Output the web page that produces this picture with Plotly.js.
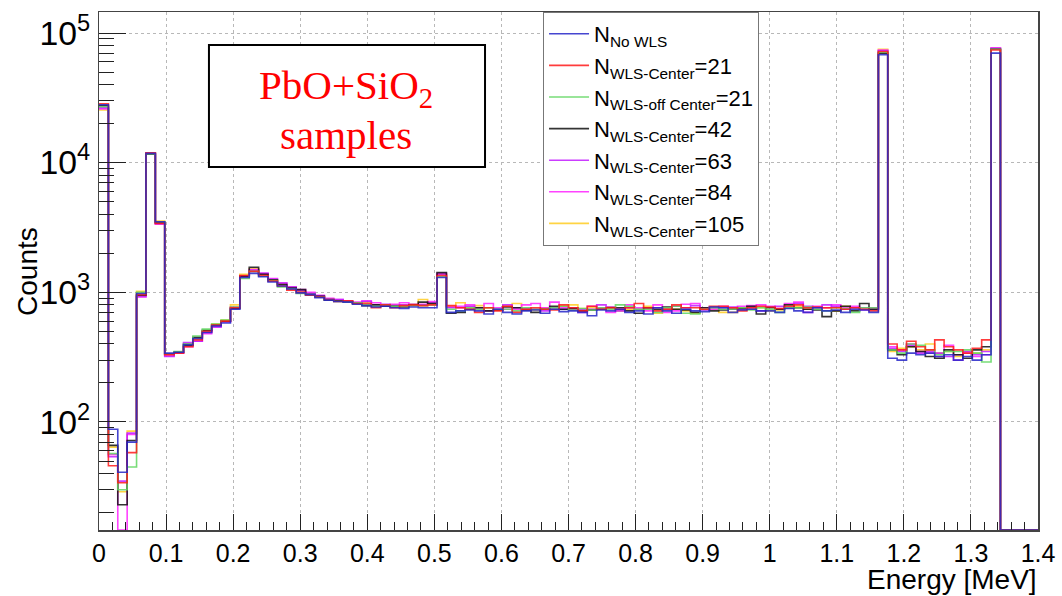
<!DOCTYPE html>
<html>
<head>
<meta charset="utf-8">
<script src="https://cdn.plot.ly/plotly-3.0.1.min.js"></script>
<style>html,body{margin:0;padding:0;background:#fff;}#chart{width:1062px;height:596px;}</style>
</head>
<body>
<div id="chart"></div>
<script>
// Histogram binning (100 bins of 0.014 MeV from 0 to 1.4)
const binLow = 0.0;
const binWidth = 0.014;
const nBins = 100;

const seriesNames = [
  'N<sub>No WLS</sub>',
  'N<sub>WLS-Center</sub>=21',
  'N<sub>WLS-off Center</sub>=21',
  'N<sub>WLS-Center</sub>=42',
  'N<sub>WLS-Center</sub>=63',
  'N<sub>WLS-Center</sub>=84',
  'N<sub>WLS-Center</sub>=105'
];

const noWLS = [28000,88,41,70,980,11800,3500,340,345,395,440,490,550,580,740,1300,1400,1320,1200,1120,1060,990,960,910,870,850,840,810,790,770,780,760,750,770,760,760,1300,
  700,720,730,720,680,740,700,680,720,730,690,740,710,720,700,660,730,720,740,700,720,680,760,720,690,740,720,710,770,760,700,730,740,720,720,700,750,720,700,760,720,730,700,740,730,700,
  68000,310,300,340,330,340,320,330,300,320,300,330,70000,0,0,0,0];
const center21 = [28500,46,34,58,960,11900,3400,330,340,380,430,500,560,600,760,1350,1450,1350,1220,1120,1040,1000,950,920,880,850,860,820,820,760,800,760,790,800,790,800,1350,
  790,760,740,700,760,720,780,700,740,760,740,730,800,760,720,780,740,760,740,760,820,760,720,740,800,760,760,740,780,780,760,720,760,780,770,750,780,800,760,770,760,760,740,760,740,720,
  72000,400,360,420,380,360,430,380,360,340,370,430,74000,0,0,0,0];
const offCenter21 = [27000,57,30,45,1000,11700,3500,335,350,400,460,520,570,610,770,1280,1450,1330,1230,1100,1060,980,960,920,880,850,840,830,800,780,800,780,780,790,790,800,1320,
  740,720,760,740,760,740,740,720,760,740,740,760,780,730,750,730,760,740,800,780,740,740,700,760,780,690,680,740,760,740,740,760,730,760,740,700,760,760,770,740,720,760,750,700,760,760,
  71000,360,340,400,390,360,330,350,350,360,340,290,75000,0,0,0,0];
const center42 = [27500,66,23,72,950,11600,3450,335,345,390,450,510,560,600,750,1330,1560,1380,1250,1150,1080,1050,960,930,870,860,850,820,790,800,780,780,770,800,840,820,1420,
  690,700,740,760,720,730,770,760,730,700,740,780,740,750,720,730,740,760,760,720,690,760,740,770,740,730,700,760,720,730,740,750,780,680,760,740,800,760,740,730,650,720,780,720,820,740,
  70000,360,330,380,350,320,310,360,330,310,360,380,75000,0,0,0,0];
const center63 = [26500,54,35,82,930,11700,3400,320,340,410,420,490,540,590,760,1320,1480,1400,1260,1180,1100,1030,980,940,890,880,850,830,850,800,810,790,800,810,800,830,1380,
  760,760,780,750,720,740,800,760,750,740,720,760,740,760,740,740,800,770,720,760,740,750,760,740,780,760,790,730,760,760,770,740,760,720,770,780,760,820,780,760,800,780,740,760,760,740,
  73000,370,350,390,340,350,340,320,330,350,330,350,76000,0,0,0,0];
const center84 = [26000,56,0,80,920,11800,3350,325,340,380,420,480,540,600,770,1340,1500,1400,1280,1180,1100,1050,1000,950,900,880,860,840,860,830,800,810,830,800,810,850,1400,
  770,780,800,760,820,760,740,740,800,820,760,840,760,740,700,780,760,700,740,800,760,720,800,700,720,810,820,760,740,780,760,780,790,800,780,750,820,840,700,780,760,800,760,780,730,760,
  74000,380,360,400,350,340,320,390,300,340,320,330,77000,0,0,0,0];
const center105 = [25500,64,29,85,1020,11900,3550,330,345,400,440,500,570,610,800,1380,1520,1380,1250,1150,1090,1020,970,930,880,870,860,820,840,800,800,800,790,810,880,830,1380,
  780,830,770,790,760,730,780,820,740,730,760,740,780,800,750,760,740,770,720,740,740,780,690,750,740,720,690,760,740,700,700,760,750,760,720,730,760,780,740,740,760,720,780,760,740,750,
  75000,350,370,380,360,400,340,350,320,350,340,360,76000,0,0,0,0];

const seriesValues = [noWLS, center21, offCenter21, center42, center63, center84, center105];
const seriesColors = ['#2626c8', '#ff1a1a', '#5fd65f', '#111111', '#c21aff', '#ff22ff', '#ffcc22'];

const yMinLog = 1.167, yMaxLog = 5.162;
const yFloor = Math.pow(10, yMinLog);

const edges = [];
for (let i = 0; i <= nBins; i++) edges.push(+(binLow + i * binWidth).toFixed(4));

const traces = [];
for (let s = seriesValues.length - 1; s >= 0; s--) {
  const v = seriesValues[s].map(c => c > 0 ? c : yFloor);
  traces.push({
    type: 'scatter', mode: 'lines',
    x: edges,
    y: v.concat([v[v.length - 1]]),
    line: {shape: 'hv', color: seriesColors[s], width: 1.6},
    opacity: 0.85,
    name: seriesNames[s],
    cliponaxis: true
  });
}

const font = 'Liberation Sans, Arial, sans-serif';
const serif = 'Liberation Serif, Times New Roman, serif';
const layout = {
  width: 1062, height: 596,
  margin: {l: 99, r: 24, t: 12, b: 66, pad: 0},
  paper_bgcolor: '#fff', plot_bgcolor: '#fff',
  showlegend: true,
  font: {family: font, color: '#000', size: 26},
  xaxis: {
    range: [0, 1.4], dtick: 0.1, tick0: 0,
    ticks: 'inside', ticklen: 16, tickwidth: 1, tickcolor: '#222',
    showline: true, linecolor: '#444', linewidth: 1.5, mirror: true,
    showgrid: true, gridcolor: '#b8b8b8', griddash: 'dot', gridwidth: 1,
    zeroline: false,
    tickfont: {family: font, size: 25, color: '#000'},
    minor: {dtick: 0.02, ticks: 'inside', ticklen: 8, tickcolor: '#222', showgrid: false},
    automargin: false
  },
  yaxis: {
    type: 'log', range: [yMinLog, yMaxLog], dtick: 1,
    exponentformat: 'power', showexponent: 'all',
    ticks: 'inside', ticklen: 27, tickwidth: 1, tickcolor: '#222',
    showline: true, linecolor: '#444', linewidth: 1.5, mirror: true,
    showgrid: true, gridcolor: '#b8b8b8', griddash: 'dot', gridwidth: 1,
    zeroline: false,
    tickfont: {family: font, size: 27, color: '#000'},
    ticklabelstandoff: 2,
    minor: {dtick: 'D1', ticks: 'inside', ticklen: 15, tickcolor: '#222', showgrid: false},
    automargin: false
  },
  legend: {
    x: 0.4729, y: 1, xanchor: 'left', yanchor: 'top',
    bgcolor: '#fff', bordercolor: '#777', borderwidth: 1,
    font: {family: font, size: 22, color: '#000'},
    traceorder: 'reversed', tracegroupgap: 0, itemwidth: 40
  },
  shapes: [
    {type: 'rect', xref: 'paper', yref: 'paper', x0: 0.1171, x1: 0.4111, y0: 0.7008, y1: 0.9363,
     line: {color: '#000', width: 2}, fillcolor: '#fff', layer: 'above'}
  ],
  annotations: [
    {
      xref: 'paper', yref: 'paper', x: 1, y: -0.127, xanchor: 'right', yanchor: 'bottom',
      text: 'Energy [MeV]', showarrow: false, borderpad: 0,
      font: {family: font, size: 28, color: '#000'}
    },
    {
      xref: 'paper', yref: 'paper', x: -0.0767, y: 0.5, xanchor: 'center', yanchor: 'middle',
      text: 'Counts', textangle: -90, showarrow: false,
      font: {family: font, size: 28, color: '#000'}
    },
    {
      xref: 'paper', yref: 'paper', x: 0.263, y: 0.853, xanchor: 'center', yanchor: 'middle',
      text: 'PbO+SiO<sub>2</sub>', showarrow: false,
      font: {family: serif, size: 41, color: '#ff0000'}
    },
    {
      xref: 'paper', yref: 'paper', x: 0.263, y: 0.7625, xanchor: 'center', yanchor: 'middle',
      text: 'samples', showarrow: false,
      font: {family: serif, size: 41, color: '#ff0000'}
    }
  ]
};

Plotly.newPlot('chart', traces, layout, {staticPlot: true, displayModeBar: false});
</script>
</body>
</html>
